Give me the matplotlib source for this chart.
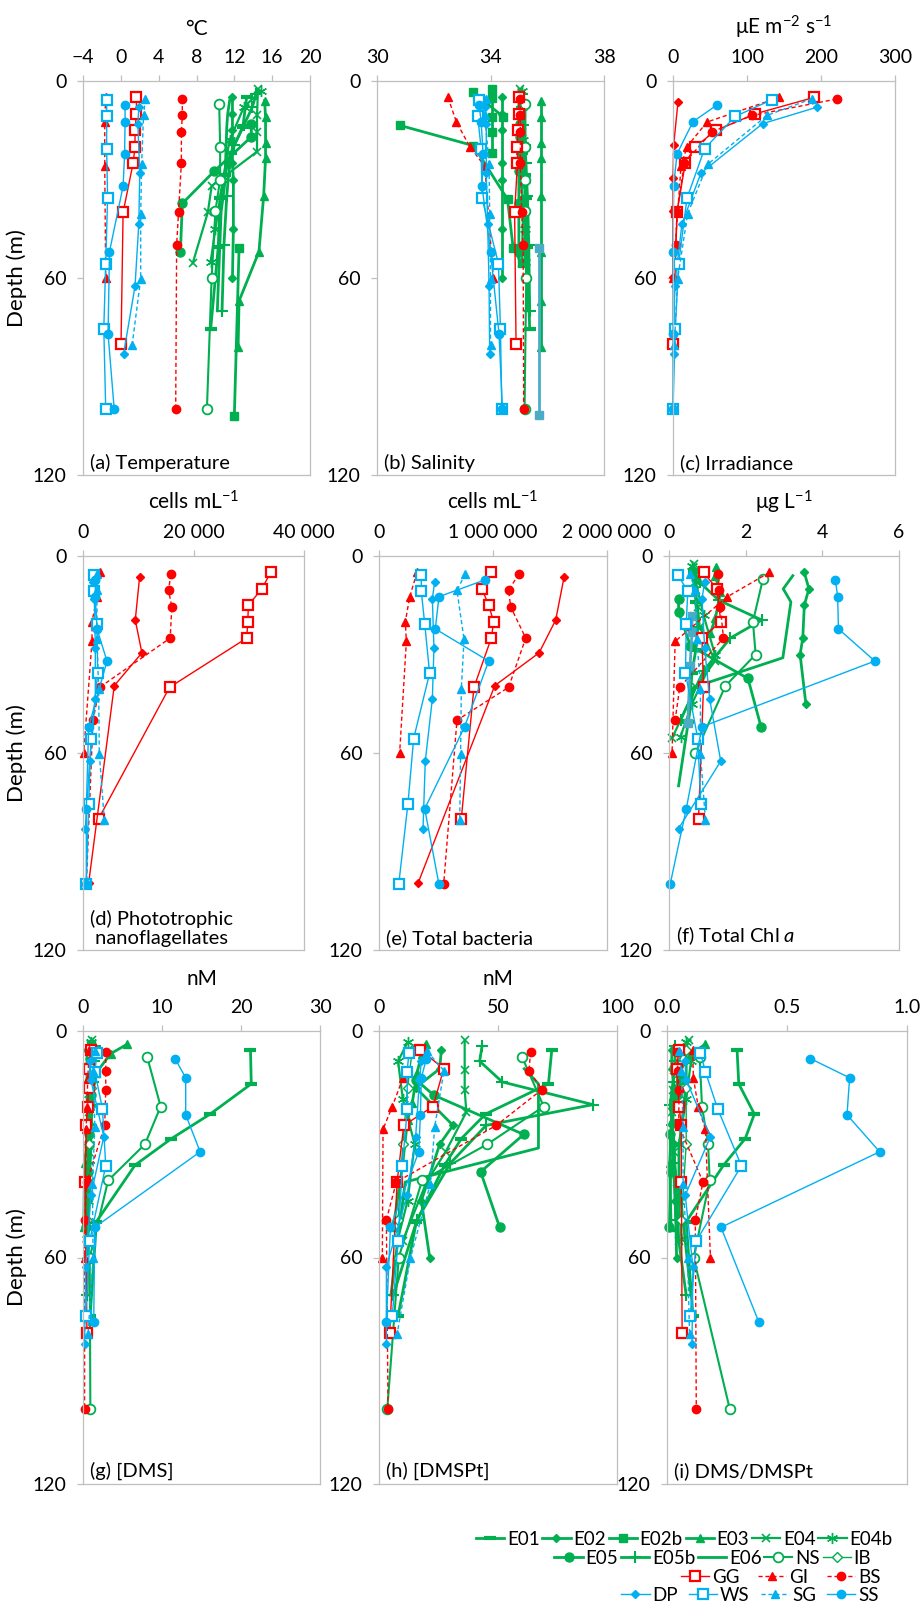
import numpy as np
import matplotlib
matplotlib.use('Agg')
import matplotlib.pyplot as plt
from matplotlib.lines import Line2D

plt.rcParams['font.family'] = ['Lato', 'DejaVu Sans']
plt.rcParams['mathtext.fontset'] = 'custom'
plt.rcParams['mathtext.rm'] = 'Lato'
plt.rcParams['mathtext.it'] = 'Lato:italic'

GREEN = '#00B050'
RED = '#FF0000'
BLUE = '#00B0F0'
TEAL = '#4BACC6'

# sampling depths (m) for each station
depth = {
    'E01': [5, 14, 22, 28.5, 35.5, 50.5, 75.5],
    'E02': [5, 10, 15, 25, 30, 45, 60],
    'E02b': [3.5, 13.5, 19.7, 36, 51, 55.5, 102],
    'E02x': [2.5, 5.3, 10.9, 15.6, 21.8],
    'E02y': [3.5, 10.9],
    'E03': [3.5, 6, 11, 19, 23.5, 35, 52, 67, 81],
    'E04': [2.5, 10.4, 15.5, 21.5, 32, 40, 55.5],
    'E04b': [3, 8, 18, 30, 45, 55],
    'E05': [13, 17, 27.4, 37.3, 52],
    'E05b': [4, 8, 13.5, 19.5, 25, 35, 50, 70],
    'E06': [6, 10, 14, 31, 40, 70],
    'NS': [7, 20, 30, 39.6, 60, 100],
    'IB': [5, 15, 30, 50],
    'TQ': [18.4, 23, 33.6, 51, 101.7],
    'GG': [5, 10, 15, 20, 25, 40, 80],
    'GI': [5, 12.5, 20, 26, 60],
    'BS': [5.5, 10.5, 15.5, 25, 40, 50, 100],
    'RD': [6.5, 19.5, 29.5, 39.5, 59.7, 99.7],
    'DP': [8, 13, 28, 43.5, 62.5, 83],
    'WS': [5.7, 10.8, 20.6, 35.7, 55.6, 75.4, 100],
    'SG': [5.4, 10.5, 25.4, 40.4, 60.2, 80.3],
    'SS': [7.3, 12.4, 22.2, 32, 52, 77, 100],
}

nan = np.nan

temperature = {
    'E01': [13.3, 12.9, 11.6, 11.0, 10.5, 10.3, 9.5],
    'E02': [11.8, 11.8, 11.8, 11.8, 11.9, 11.9, 11.8],
    'E02b': [nan, nan, nan, nan, 12.5, nan, 12.0],
    'E03': [nan, 15.2, 15.3, 15.3, 15.3, 15.1, 14.6, 12.5, 12.4],
    'E04': [14.5, 14.4, 14.4, 14.4, 9.6, 9.2, 7.6],
    'E04b': [14.8, 13.0, 11.5, 10.8, 10.0, 9.5],
    'E05': [13.8, 13.8, 9.9, 6.5, 6.3],
    'E05b': [14.3, 13.9, 13.0, 12.0, 11.5, 11.2, 10.9, 10.7],
    'E06': [11.5, 11.3, 11.2, 11.0, 10.6, 10.2],
    'NS': [10.4, 10.5, 10.5, 10.0, 9.6, 9.1],
    'GG': [1.65, 1.65, 1.5, 1.5, 1.3, 0.24, 0.02],
    'GI': [-1.6, -1.7, -1.7, -1.7, -1.6],
    'BS': [6.5, 6.5, 6.4, 6.4, 6.1, 5.9, 5.8],
    'DP': [1.9, 1.8, 2.0, 1.9, 1.5, 0.3],
    'WS': [-1.5, -1.5, -1.5, -1.4, -1.6, -1.8, -1.6],
    'SG': [2.6, 2.4, 2.2, 2.1, 2.1, 1.2],
    'SS': [0.45, 0.45, 0.4, 0.24, -1.2, -1.35, -0.7],
}

salinity = {
    'E01': [35.0, 35.05, 35.1, 35.2, 35.25, 35.3, 35.38],
    'E02': [34.42, 34.42, 34.42, 34.42, 34.42, 34.42, 34.42],
    'E02b': [nan, 30.8, 33.4, 34.6, 34.8, 35.1, nan],
    'E02x': [34.07, 34.07, 34.07, 34.07, 34.07],
    'E02y': [33.4, 34.45],
    'E03': [nan, 35.78, 35.78, 35.78, 35.78, 35.78, 35.78, 35.78, 35.78],
    'E04': [35.05, 35.05, 35.1, 35.1, 35.1, 35.15, 35.1],
    'E04b': [35.1, 35.1, 35.15, 35.2, 35.2, 35.2],
    'E05': [35.05, 35.05, 35.0, 35.0, 35.0],
    'E05b': [35.1, 35.1, 35.15, 35.2, 35.25, 35.3, 35.35, 35.38],
    'E06': [35.2, 35.2, 35.2, 35.25, 35.3, 35.3],
    'NS': [35.23, 35.23, 35.23, 35.2, 35.26, 35.2],
    'TQ': [nan, nan, nan, 35.7, 35.7],
    'GG': [35.0, 35.0, 34.97, 34.95, 34.95, 34.85, 34.9],
    'GI': [32.5, 32.8, 33.27, 33.8, 34.1],
    'BS': [35.05, 35.05, 35.05, 35.05, 35.1, 35.15, 35.17],
    'DP': [33.8, 33.85, 33.85, 33.9, 33.95, 33.97],
    'WS': [33.6, 33.55, 33.67, 33.7, 34.28, 34.35, 34.4],
    'SG': [33.85, 33.8, 33.95, 33.97, 34.0, 34.0],
    'SS': [33.6, 33.67, 33.74, 33.7, 34.0, 34.3, 34.42],
}

irradiance = {
    'GG': [190.7, 111, 58.5, 30, 16.6, 5.4, 0],
    'GI': [143.5, 45.9, 18.9, 10.8, 0],
    'BS': [221, 107, 52.6, 15.3, 5.4, 3.6, nan],
    'RD': [6.7, 0.9, 0, 0, 0, nan],
    'DP': [194.3, 121, 37.8, 12.1, 2.2, 0.9],
    'WS': [133.6, 84, 42.7, 18.9, 7.6, 3.1, 0],
    'SG': [187.6, 126.8, 46.8, 19.8, 6.3, 1.8],
    'SS': [59.4, 27, 5.4, 0.9, 0, 0, 0],
}

nanoflag = {
    'GG': [33975, 32350, 29940, 29820, 29640, 15660, 2830],
    'GI': [3010, 2530, 1630, 1630, 120],
    'BS': [15900, 15480, 16080, 15780, 3010, 1810, 600],
    'RD': [10240, 9460, 10660, 5660, nan, 1020],
    'DP': [1810, 2050, 2230, 2230, 1200, 420],
    'WS': [1930, 1930, 2530, 2650, 1450, 1020, 600],
    'SG': [2530, 2530, 2530, 2830, 2950, 3860],
    'SS': [2230, 2230, 2530, 4340, 1020, 600, 600],
}

bacteria = {
    'GG': [979e3, 903e3, 962e3, 1006e3, 985e3, 833e3, 722e3],
    'GI': [333e3, 269e3, 231e3, 240e3, 181e3],
    'BS': [1225e3, 1137e3, 1155e3, 1287e3, 1137e3, 684e3, 567e3],
    'RD': [1623e3, 1550e3, 1404e3, 1015e3, nan, 342e3],
    'DP': [488e3, 468e3, 482e3, 468e3, 406e3, 386e3],
    'WS': [371e3, 371e3, 401e3, 444e3, 304e3, 254e3, 173e3],
    'SG': [757e3, 684e3, 746e3, 722e3, 716e3, 708e3],
    'SS': [927e3, 526e3, 494e3, 962e3, 751e3, 401e3, 526e3],
}

chla = {
    'E01': [0.65, 0.7, 0.75, 0.7, 0.6, 0.5, nan],
    'E02': [3.53, 3.65, 3.53, 3.49, 3.42, 3.57, nan],
    'E03': [1.23, 1.2, 1.34, 1.21, 1.08, nan, nan, nan, nan],
    'E04': [0.64, 0.7, 0.75, 0.8, 1.2, 0.7, 0.08],
    'E04b': [0.6, 0.7, 0.9, 1.2, 0.6, 0.3],
    'E05': [0.25, 0.25, 0.56, 2.06, 2.4],
    'E05b': [0.64, 0.8, 1.3, 2.42, 1.6, 0.9, 0.3, nan],
    'E06': [3.23, 2.98, 3.18, 2.97, 0.64, 0.25],
    'NS': [2.45, 2.19, 2.26, 1.47, 0.69, nan],
    'TQ': [0.6, 0.6, 0.55, 0.49, nan],
    'GG': [0.9, 1.25, nan, 1.35, 0.86, 0.9, 0.77],
    'GI': [2.62, 1.51, nan, 0.16, 0.08],
    'BS': [1.29, 1.3, 1.34, 1.42, 0.28, 0.16, nan],
    'DP': [0.93, 0.86, 0.93, 1.06, 1.35, 0.25],
    'WS': [0.23, 0.49, 0.45, 0.43, 0.75, 0.83, nan],
    'SG': [0.54, 0.69, 0.73, 0.82, 0.82, 0.95],
    'SS': [4.34, 4.4, 4.42, 5.37, 0.86, 0.45, 0.03],
}

dms = {
    'E01': [21.2, 21.3, 16.1, 11.2, 6.6, 1.7, 0.9],
    'E02': [0.5, 0.5, 0.5, 0.6, 0.7, 0.6, 0.4],
    'E02b': [1.0, nan, nan, nan, nan, nan, nan],
    'E03': [5.6, 3.5, 1.7, 1.0, 0.8, 0.2, 0.1, nan, nan],
    'E04': [1.2, 1.0, 0.9, 0.8, 0.7, 0.9, 0.6],
    'E04b': [1.0, 0.9, 0.8, 0.7, 0.6, 0.5],
    'E05': [1.0, 1.0, 0.8, 0.6, 0.4],
    'E05b': [1.5, 1.4, 1.3, 1.2, 1.0, 0.8, 0.6, 0.5],
    'E06': [1.3, 1.2, 1.1, 1.0, 0.8, 0.5],
    'NS': [8.14, 9.83, 7.84, 3.18, 0.85, 0.93],
    'IB': [1.2, 1.0, 0.8, 0.5],
    'GG': [1.0, 0.8, 0.7, 0.6, 0.4, 0.3, 0.5],
    'GI': [0.8, 0.6, 0.5, 0.4, 0.2],
    'BS': [2.88, 2.88, 2.88, 2.75, 0.5, 0.2, 0.2],
    'DP': [0.85, 1.0, 2.63, 1.0, 0.34, 0.2],
    'WS': [1.78, 1.5, 2.46, 2.88, 0.85, 0.34, nan],
    'SG': [1.5, 1.3, 1.5, 1.2, 1.27, 0.64],
    'SS': [11.65, 13.0, 13.0, 14.83, 1.48, 1.36, nan],
}

dmspt = {
    'E01': [72.6, 71.2, 44.8, 34.6, 27.6, 15.7, 8],
    'E02': [26.2, 25.5, 15.4, 31.1, 25.5, 17.8, 21.3],
    'E03': [19.6, 18, 16, 14, 12, 10, 6, nan, nan],
    'E04': [36, 36, 36, 36.7, 28, 20, 10],
    'E04b': [12, 8, 10, 15, 12, 8],
    'E05': [15.7, 23, 60.8, 42.7, 50.7],
    'E05b': [43.3, 42.3, 51.8, 89.9, 45, 30, 16, 6],
    'E06': [nan, 61, 67, 67, 11, 5],
    'NS': [60.2, 69.2, 45.5, 18.1, 8.3, 3.5],
    'IB': [14, 12, 10, 8],
    'GG': [17.4, 27.2, nan, 22.7, 10.4, 7.6, 4.5],
    'GI': [nan, 10, 5.6, 1.7, 1.4],
    'BS': [63.7, 63, 68.5, 49.3, 7.3, 3.1, 3.8],
    'DP': [17.8, 17, 15.4, 11.8, 3.1, 3.1],
    'WS': [12.6, 11.8, 11.9, 9.8, 8, 5.6, nan],
    'SG': [20.2, 27.3, 23.4, 21.6, 13.2, 7.6],
    'SS': [19.9, 17.8, 17.4, 16.7, 4.8, 3.1, nan],
}

ratio = {
    'E01': [0.292, 0.299, 0.364, 0.326, 0.236, 0.08, 0.108],
    'E02': [0.02, 0.02, 0.03, 0.02, 0.03, 0.035, 0.04],
    'E03': [0.16, 0.1, 0.05, 0.03, 0.02, 0.011, 0.017, nan, nan],
    'E04': [0.09, 0.03, 0.025, 0.02, 0.03, 0.04, 0.05],
    'E04b': [0.08, 0.1, 0.08, 0.05, 0.05, 0.06],
    'E05': [0.06, 0.04, 0.013, 0.015, 0.01],
    'E05b': [0.035, 0.033, 0.025, 0.013, 0.022, 0.027, 0.037, 0.08],
    'E06': [0.08, 0.08, 0.08, 0.05, 0.05, 0.1],
    'NS': [0.136, 0.146, 0.171, 0.178, 0.111, 0.261],
    'IB': [0.08, 0.08, 0.08, 0.06],
    'GG': [0.05, 0.04, nan, 0.05, 0.06, 0.06, 0.063],
    'GI': [0.107, 0.11, 0.13, 0.16, 0.181],
    'BS': [0.04, 0.045, 0.05, 0.049, 0.15, 0.118, 0.122],
    'DP': [0.076, 0.08, 0.181, 0.076, 0.108, 0.104],
    'WS': [0.139, 0.16, 0.211, 0.31, 0.122, 0.097, nan],
    'SG': [0.049, 0.06, 0.067, 0.067, 0.086, 0.094],
    'SS': [0.597, 0.761, 0.75, 0.886, 0.225, 0.382, nan],
}

dash = (0, (3, 2))
styles = {
    'E01': dict(color=GREEN, marker='_', ms=9, mew=3, lw=2),
    'E02': dict(color=GREEN, marker='D', ms=4, lw=2),
    'E02b': dict(color=GREEN, marker='s', ms=6, lw=2),
    'E02x': dict(color=GREEN, marker='s', ms=6, lw=2),
    'E02y': dict(color=GREEN, marker='s', ms=6, lw=2),
    'E03': dict(color=GREEN, marker='^', ms=6, lw=2),
    'E04': dict(color=GREEN, marker='x', ms=6, mew=1.2, lw=1.6),
    'E04b': dict(color=GREEN, marker=(6, 2, 0), ms=8, mew=1, lw=1.6),
    'E05': dict(color=GREEN, marker='o', ms=6.5, lw=2),
    'E05b': dict(color=GREEN, marker='+', ms=8, mew=1.5, lw=2),
    'E06': dict(color=GREEN, marker='None', lw=2),
    'NS': dict(color=GREEN, marker='o', ms=7, mfc='white', mew=1.3, lw=1.5),
    'IB': dict(color=GREEN, marker='D', ms=5, mfc='white', mew=1, lw=1),
    'TQ': dict(color=TEAL, marker='s', ms=6, lw=2),
    'GG': dict(color=RED, marker='s', ms=6.5, mfc='white', mew=1.6, lw=1),
    'GI': dict(color=RED, marker='^', ms=6, lw=1, ls=dash),
    'BS': dict(color=RED, marker='o', ms=6, lw=1, ls=dash),
    'RD': dict(color=RED, marker='D', ms=4, lw=1),
    'DP': dict(color=BLUE, marker='D', ms=4, lw=1),
    'WS': dict(color=BLUE, marker='s', ms=6.5, mfc='white', mew=1.6, lw=1),
    'SG': dict(color=BLUE, marker='^', ms=6, lw=1, ls=dash),
    'SS': dict(color=BLUE, marker='o', ms=6, lw=1),
}
order = ['E01', 'E02', 'E02b', 'E02x', 'E02y', 'E03', 'E04', 'E04b', 'E05', 'E05b',
         'E06', 'NS', 'IB', 'TQ', 'GG', 'GI', 'BS', 'RD', 'DP', 'WS', 'SG', 'SS']

W, H = 922, 1604
fig = plt.figure(figsize=(W / 100, H / 100), dpi=100)


def px_axes(x0, x1, y0, y1):
    return fig.add_axes([x0 / W, 1 - y1 / H, (x1 - x0) / W, (y1 - y0) / H])


panels = [
    # data, box (px), xlim, ticks, ticklabels, unit, label, depth label
    (temperature, (83, 310, 81, 475), (-4, 20), [-4, 0, 4, 8, 12, 16, 20], None,
     '°C', '(a) Temperature', True),
    (salinity, (377, 604, 81, 475), (30, 38), [30, 34, 38], None,
     '', '(b) Salinity', False),
    (irradiance, (673, 895, 81, 475), (0, 300), [0, 100, 200, 300], None,
     'μE m$^{-2}$ s$^{-1}$', '(c) Irradiance', False),
    (nanoflag, (83, 304, 556, 950), (0, 40000), [0, 20000, 40000], ['0', '20 000', '40 000'],
     'cells mL$^{-1}$', '(d) Phototrophic\n nanoflagellates', True),
    (bacteria, (379, 607, 556, 950), (0, 2e6), [0, 1e6, 2e6], ['0', '1 000 000', '2 000 000'],
     'cells mL$^{-1}$', '(e) Total bacteria', False),
    (chla, (669, 899, 556, 950), (0, 6), [0, 2, 4, 6], None,
     'μg L$^{-1}$', '(f) Total Chl $a$', False),
    (dms, (83, 320, 1031, 1484), (0, 30), [0, 10, 20, 30], None,
     'nM', '(g) [DMS]', True),
    (dmspt, (379, 617, 1031, 1484), (0, 100), [0, 50, 100], None,
     'nM', '(h) [DMSPt]', False),
    (ratio, (667, 907, 1031, 1484), (0, 1), [0, 0.5, 1.0], ['0.0', '0.5', '1.0'],
     '', '(i) DMS/DMSPt', False),
]

for data, box, xlim, ticks, tlabels, unit, label, ylab in panels:
    ax = px_axes(*box)
    for st in order:
        if st not in data:
            continue
        v = np.array(data[st], dtype=float)
        d = np.array(depth[st], dtype=float)
        m = ~np.isnan(v)
        ax.plot(v[m], d[m], clip_on=False, **styles[st])
    ax.set_xlim(xlim)
    ax.set_ylim(120, 0)
    ax.set_yticks([0, 60, 120])
    ax.set_xticks(ticks)
    if tlabels:
        ax.set_xticklabels(tlabels)
    ax.xaxis.tick_top()
    ax.xaxis.set_label_position('top')
    ax.set_xlabel(unit, fontsize=15, labelpad=10)
    for s in ax.spines.values():
        s.set_color('#BFBFBF')
        s.set_linewidth(0.9)
    ax.tick_params(color='#BFBFBF', labelcolor='black', labelsize=14, length=4, width=0.9)
    ax.tick_params(axis='x', pad=7)
    ax.tick_params(axis='y', pad=8)
    if ylab:
        ax.set_ylabel('Depth (m)', fontsize=16, labelpad=4)
    ax.text(0.03, 0.008, label, transform=ax.transAxes, ha='left', va='bottom',
            fontsize=14.5, linespacing=1.1)

# legend rows, laid out like the original
rows = [
    (['E01', 'E02', 'E02b', 'E03', 'E04', 'E04b'], 0.968, 0.0405, 0.15),
    (['E05', 'E05b', 'E06', 'NS', 'IB'], 0.945, 0.0285, 0.15),
    (['GG', 'GI', 'BS'], 0.955, 0.0165, 1.0),
    (['DP', 'WS', 'SG', 'SS'], 0.953, 0.0055, 0.6),
]
for names, rx, ry, cs in rows:
    handles = [Line2D([], [], **styles[n]) for n in names]
    fig.legend(handles, names, ncol=len(names), loc='center right',
               bbox_to_anchor=(rx, ry), frameon=False, fontsize=13.5,
               handlelength=1.5, handletextpad=0.15, columnspacing=cs,
               borderpad=0, borderaxespad=0)

fig.savefig('out.png', dpi=100)
